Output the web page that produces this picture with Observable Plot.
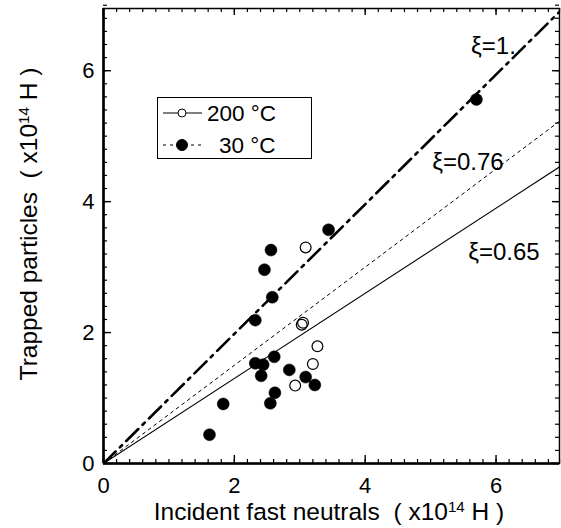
<!DOCTYPE html>
<html><head><meta charset="utf-8">
<script src="https://cdn.jsdelivr.net/npm/d3@7"></script>
<script src="https://cdn.jsdelivr.net/npm/@observablehq/plot@0.6"></script>
<style>
body{margin:0;background:#fff;font-family:"Liberation Sans",Arial,Helvetica,sans-serif;}
#chart{position:relative;width:561px;height:528px;overflow:hidden;}
#legend{position:absolute;left:157px;top:97px;width:155px;height:62px;border:1px solid #000;background:#fff;box-sizing:border-box;}
#legend svg{display:block;}
</style></head><body><div id="chart"><div id="legend"></div></div>
<script>
// 200 °C (open circles)
const hotX = [3.09, 3.03, 3.05, 3.27, 3.20, 2.93];
const hotY = [3.30, 2.12, 2.15, 1.79, 1.52, 1.19];
// 30 °C (filled circles)
const coldX = [1.62, 1.83, 2.32, 2.46, 2.56, 2.58, 2.32, 2.44, 2.61, 2.41, 2.84, 3.09, 3.23, 2.62, 2.55, 5.70, 3.44];
const coldY = [0.44, 0.91, 2.19, 2.96, 3.26, 2.54, 1.53, 1.51, 1.63, 1.34, 1.43, 1.32, 1.20, 1.08, 0.92, 5.56, 3.57];
// reference lines (trapped = slope * incident)
const xiLabels = ["ξ=1.", "ξ=0.76", "ξ=0.65"];
const xiSlopes = [0.99, 0.75, 0.65];
const xiLabelX = [5.96, 5.57, 6.12];
const xiLabelY = [6.38, 4.60, 3.22];
// axes
const xTickValues = [0, 2, 4, 6];
const yTickValues = [0, 2, 4, 6];
const xDomain = [0, 6.97];
const yDomain = [0, 6.95];
const legendLabels = ["200 °C", "30 °C"];

const hot = hotX.map((x, i) => ({x, y: hotY[i]}));
const cold = coldX.map((x, i) => ({x, y: coldY[i]}));
const lines = xiSlopes.flatMap((s, i) => [
  {k: i, x: 0, y: 0},
  {k: i, x: xDomain[1], y: s * xDomain[1]}
]);
const labels = xiLabels.map((t, i) => ({t, x: xiLabelX[i], y: xiLabelY[i]}));
const minor = d3.range(0, 7.0001, 0.2).map(v => +v.toFixed(1));
const isMajor = v => Math.abs(v / 2 - Math.round(v / 2)) < 1e-6;

const W = 561, H = 528, mL = 103, mR = 2, mT = 8, mB = 65;
const fw = W - mL - mR, fh = H - mT - mB;
const styles = [
  {stroke: "#000", strokeWidth: 2.6, strokeDasharray: "17,6,3,6"},
  {stroke: "#000", strokeWidth: 1, strokeDasharray: "3,4"},
  {stroke: "#000", strokeWidth: 1.1, strokeDasharray: null}
];

const plot = Plot.plot({
  width: W, height: H,
  marginLeft: mL, marginRight: mR, marginTop: mT, marginBottom: mB,
  style: {fontFamily: '"Liberation Sans", Arial, sans-serif', background: "#fff", color: "#000"},
  x: {domain: xDomain},
  y: {domain: yDomain},
  marks: [
    ...xiSlopes.map((s, i) => Plot.line(lines.filter(d => d.k === i), {x: "x", y: "y", clip: true, ...styles[i]})),
    Plot.text(labels, {x: "x", y: "y", text: "t", fontSize: 24, fill: "#000", textAnchor: "middle"}),
    Plot.dot(cold, {x: "x", y: "y", r: 6, fill: "#000", stroke: "#000", strokeWidth: 0.5}),
    Plot.dot(hot, {x: "x", y: "y", r: 5.4, fill: "none", stroke: "#000", strokeWidth: 1.2}),
    // inward ticks
    Plot.tickX(minor, {x: d => d, stroke: "#000", strokeWidth: 1.2, insetTop: fh - 4}),
    Plot.tickX(minor.filter(isMajor), {x: d => d, stroke: "#000", strokeWidth: 1.4, insetTop: fh - 8}),
    Plot.tickX(minor, {x: d => d, stroke: "#000", strokeWidth: 1.2, insetBottom: fh - 4}),
    Plot.tickX(minor.filter(isMajor), {x: d => d, stroke: "#000", strokeWidth: 1.4, insetBottom: fh - 7}),
    Plot.tickY(minor, {y: d => d, stroke: "#000", strokeWidth: 1.2, insetRight: fw - 4}),
    Plot.tickY(minor.filter(isMajor), {y: d => d, stroke: "#000", strokeWidth: 1.4, insetRight: fw - 8}),
    Plot.tickY(minor, {y: d => d, stroke: "#000", strokeWidth: 1.2, insetLeft: fw - 4}),
    Plot.tickY(minor.filter(isMajor), {y: d => d, stroke: "#000", strokeWidth: 1.4, insetLeft: fw - 7}),
    Plot.frame({stroke: "#000", strokeWidth: 1.5}),
    Plot.ruleX([0], {stroke: "#000", strokeWidth: 2.6}),
    Plot.ruleY([0], {stroke: "#000", strokeWidth: 2.6}),
    Plot.axisX({ticks: xTickValues, tickSize: 0, tickPadding: 14, fontSize: 22, label: null, tickFormat: d => String(d)}),
    Plot.axisY({ticks: yTickValues, tickSize: 0, tickPadding: 9, fontSize: 22, label: null, tickFormat: d => String(d)})
  ]
});
document.getElementById("chart").prepend(plot);

const svg = d3.select(plot);
function title(g, main) {
  g.append("tspan").text(main + "  ( x10");
  g.append("tspan").attr("baseline-shift", "super").attr("font-size", "0.62em").text("14");
  g.append("tspan").text(" H )");
}
svg.append("text").attr("x", 329).attr("y", 520).attr("text-anchor", "middle")
  .attr("font-size", 24.5).attr("fill", "#000").call(g => title(g, "Incident fast neutrals"));
svg.append("text").attr("transform", "translate(37,224) rotate(-90)").attr("text-anchor", "middle")
  .attr("font-size", 24.5).attr("fill", "#000").call(g => title(g, "Trapped particles"));

// legend
const lg = d3.select("#legend").append("svg").attr("width", 153).attr("height", 60)
  .style("font-family", '"Liberation Sans", Arial, sans-serif');
const rows = [
  {label: legendLabels[0], y: 15, tx: 49, open: true, dash: null},
  {label: legendLabels[1], y: 47, tx: 61, open: false, dash: "3,4"}
];
rows.forEach(r => {
  lg.append("line").attr("x1", 5).attr("x2", 44).attr("y1", r.y).attr("y2", r.y)
    .attr("stroke", "#000").attr("stroke-width", 1).attr("stroke-dasharray", r.dash);
  lg.append("circle").attr("cx", 24).attr("cy", r.y).attr("r", r.open ? 4 : 5.5)
    .attr("fill", r.open ? "#fff" : "#000").attr("stroke", "#000").attr("stroke-width", 1);
  lg.append("text").attr("x", r.tx).attr("y", r.y).attr("dy", "0.36em")
    .attr("font-size", 22.5).attr("fill", "#000").text(r.label);
});
</script></body></html>
